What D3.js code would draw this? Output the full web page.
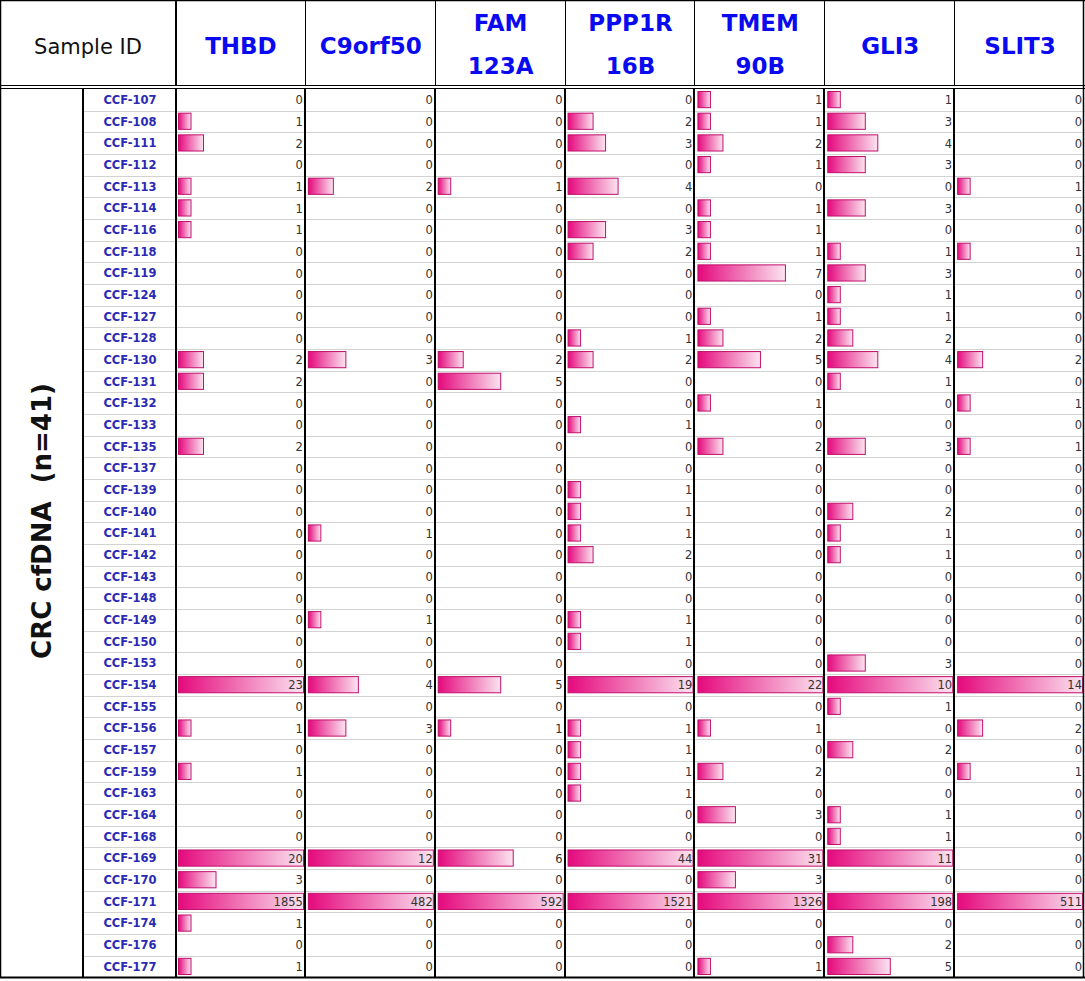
<!DOCTYPE html>
<html><head><meta charset="utf-8">
<script src="https://cdn.jsdelivr.net/npm/d3@7"></script>
<style>html,body{margin:0;padding:0;background:#fff;}svg{display:block;}</style>
</head><body>
<svg id="chart" width="1085" height="981"></svg>
<script>
const samples = ["CCF-107","CCF-108","CCF-111","CCF-112","CCF-113","CCF-114","CCF-116","CCF-118","CCF-119","CCF-124","CCF-127","CCF-128","CCF-130","CCF-131","CCF-132","CCF-133","CCF-135","CCF-137","CCF-139","CCF-140","CCF-141","CCF-142","CCF-143","CCF-148","CCF-149","CCF-150","CCF-153","CCF-154","CCF-155","CCF-156","CCF-157","CCF-159","CCF-163","CCF-164","CCF-168","CCF-169","CCF-170","CCF-171","CCF-174","CCF-176","CCF-177"];
const genes = ["THBD","C9orf50","FAM 123A","PPP1R 16B","TMEM 90B","GLI3","SLIT3"];
const THBD    = [0,1,2,0,1,1,1,0,0,0,0,0,2,2,0,0,2,0,0,0,0,0,0,0,0,0,0,23,0,1,0,1,0,0,0,20,3,1855,1,0,1];
const C9orf50 = [0,0,0,0,2,0,0,0,0,0,0,0,3,0,0,0,0,0,0,0,1,0,0,0,1,0,0,4,0,3,0,0,0,0,0,12,0,482,0,0,0];
const FAM123A = [0,0,0,0,1,0,0,0,0,0,0,0,2,5,0,0,0,0,0,0,0,0,0,0,0,0,0,5,0,1,0,0,0,0,0,6,0,592,0,0,0];
const PPP1R16B= [0,2,3,0,4,0,3,2,0,0,0,1,2,0,0,1,0,0,1,1,1,2,0,0,1,1,0,19,0,1,1,1,1,0,0,44,0,1521,0,0,0];
const TMEM90B = [1,1,2,1,0,1,1,1,7,0,1,2,5,0,1,0,2,0,0,0,0,0,0,0,0,0,0,22,0,1,0,2,0,3,0,31,3,1326,0,0,1];
const GLI3    = [1,3,4,3,0,3,0,1,3,1,1,2,4,1,0,0,3,0,0,2,1,1,0,0,0,0,3,10,1,0,2,0,0,1,1,11,0,198,0,2,5];
const SLIT3   = [0,0,0,0,1,0,0,1,0,0,0,0,2,0,1,0,1,0,0,0,0,0,0,0,0,0,0,14,0,2,0,1,0,0,0,0,0,511,0,0,0];
const groupLabel = "CRC cfDNA\u00a0\u00a0(n=41)";
const headerLabel = "Sample ID";

const series = [THBD, C9orf50, FAM123A, PPP1R16B, TMEM90B, GLI3, SLIT3];
const svg = d3.select("#chart");
const W = 1085, H = 981;
const bodyTop = 89, bodyBottom = 977.5;
const colStart = 176, colEnd = 1085;
const x = d3.scaleBand().domain(genes).range([colStart, colEnd]).padding(0);
const y = d3.scaleBand().domain(samples).range([bodyTop, bodyBottom]).padding(0);
const barX = d3.scaleLinear().domain([0, 10]).range([0, 125]).clamp(true);

const defs = svg.append("defs");
const grad = defs.append("linearGradient").attr("id","barGrad").attr("x1","0").attr("x2","1").attr("y1","0").attr("y2","0");
grad.append("stop").attr("offset","0%").attr("stop-color","#e5097d");
grad.append("stop").attr("offset","100%").attr("stop-color","#fbe4f0");

// row gridlines
svg.append("g").selectAll("line").data(samples.slice(1)).join("line")
  .attr("x1", 83).attr("x2", colEnd)
  .attr("y1", d => Math.round(y(d)) + 0.5).attr("y2", d => Math.round(y(d)) + 0.5)
  .attr("stroke", "#d2d2d2").attr("stroke-width", 1);

// bars
const cells = [];
series.forEach((arr, gi) => arr.forEach((v, ri) => cells.push({g: genes[gi], s: samples[ri], v})));
svg.append("g").selectAll("rect").data(cells.filter(c => c.v > 0)).join("rect")
  .attr("x", d => x(d.g) + 2.5)
  .attr("y", d => y(d.s) + 2.5)
  .attr("width", d => barX(d.v))
  .attr("height", y.bandwidth() - 5.5)
  .attr("fill", "url(#barGrad)")
  .attr("stroke", "#c0106c").attr("stroke-width", 1);

// values
svg.append("g").selectAll("text").data(cells).join("text")
  .attr("x", d => x(d.g) + x.bandwidth() - 3)
  .attr("y", d => y(d.s) + y.bandwidth()/2 + 4.5)
  .attr("text-anchor", "end")
  .attr("font-family", "'DejaVu Sans', sans-serif")
  .attr("font-size", 11.5)
  .attr("fill", "#333")
  .text(d => d.v);

// sample IDs
svg.append("g").selectAll("text").data(samples).join("text")
  .attr("x", 130)
  .attr("y", d => y(d) + y.bandwidth()/2 + 4)
  .attr("text-anchor", "middle")
  .attr("font-family", "'DejaVu Sans', sans-serif")
  .attr("font-weight", "bold")
  .attr("font-size", 11.5)
  .attr("fill", "#2a2ab4")
  .text(d => d);

// header labels
svg.append("text").attr("x", 88).attr("y", 54).attr("text-anchor","middle")
  .attr("font-family","'DejaVu Sans', sans-serif").attr("font-size", 21).attr("fill","#111")
  .text(headerLabel);

genes.forEach(g => {
  const parts = g.split(" ");
  const cx = x(g) + x.bandwidth()/2;
  const t = svg.append("text").attr("text-anchor","middle")
    .attr("font-family","'DejaVu Sans', sans-serif").attr("font-weight","bold")
    .attr("font-size", 23).attr("fill","#0a0af0");
  if (parts.length === 1) {
    t.append("tspan").attr("x", cx).attr("y", 54).text(parts[0]);
  } else {
    t.append("tspan").attr("x", cx).attr("y", 31).text(parts[0]);
    t.append("tspan").attr("x", cx).attr("y", 74).text(parts[1]);
  }
});

// rotated group label
svg.append("text").attr("transform", "translate(51,521) rotate(-90)")
  .attr("text-anchor","middle")
  .attr("font-family","'DejaVu Sans', sans-serif").attr("font-weight","bold")
  .attr("font-size", 26).attr("fill","#111")
  .text(groupLabel);

// borders
const line = (x1,y1,x2,y2,w) => svg.append("line").attr("x1",x1).attr("y1",y1).attr("x2",x2).attr("y2",y2)
  .attr("stroke","#000").attr("stroke-width",w);
line(0,0.5,W,0.5,1.5);
line(0.5,0,0.5,978,1.5);
line(1083.5,0,1083.5,978,1.5);
line(0,977.5,W,977.5,2);
line(0,85.5,W,85.5,1.2);
line(0,88.5,W,88.5,1.2);
line(176,0,176,85,2);
genes.slice(1).forEach(g => line(Math.round(x(g))-0.5,0,Math.round(x(g))-0.5,85,1));
line(83,89,83,977,2);
line(176,89,176,977,2);
genes.slice(1).forEach(g => line(Math.round(x(g))-1,89,Math.round(x(g))-1,977,2));
</script>
</body></html>
